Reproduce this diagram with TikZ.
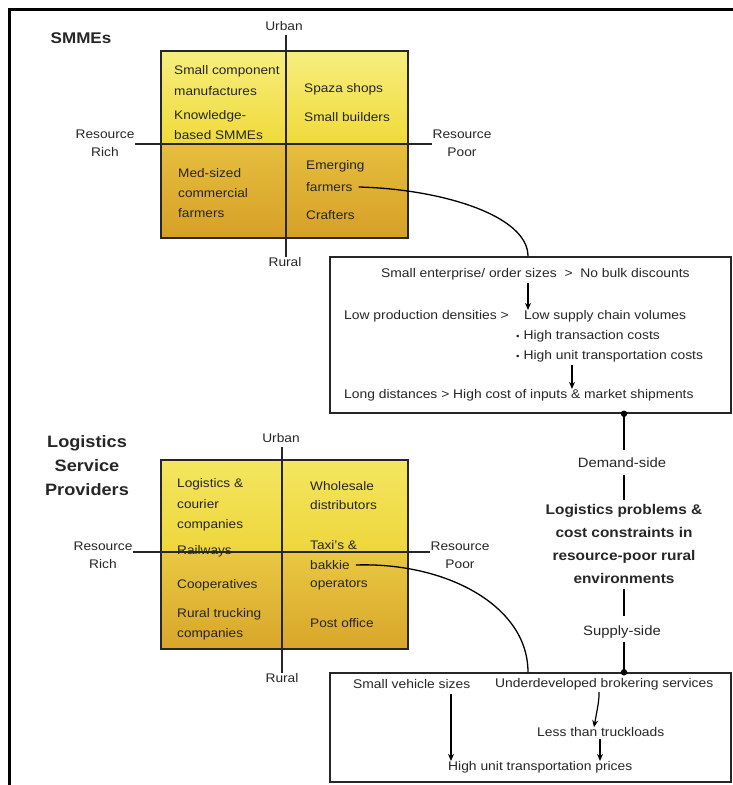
\documentclass[tikz,border=0pt]{standalone}
\usepackage{fontspec}
\setmainfont{Liberation Sans}[FakeStretch=1.1]
\usetikzlibrary{arrows.meta}
\definecolor{ink}{HTML}{262626}
\definecolor{hiA}{HTML}{F7EE7E}
\definecolor{hiB}{HTML}{F0DA3A}
\definecolor{loA}{HTML}{E6BE3E}
\definecolor{loB}{HTML}{D6A026}
\definecolor{lhiA}{HTML}{F4E660}
\definecolor{lhiB}{HTML}{EED63C}
\definecolor{lloA}{HTML}{E9C842}
\definecolor{lloB}{HTML}{D8A62A}
\begin{document}
\begin{tikzpicture}[x=1pt,y=-1pt,
  qtxt/.style={font=\fontsize{12.4}{14}\selectfont, text=ink, inner sep=0pt, anchor=west},
  btxt/.style={font=\fontsize{12.6}{14}\selectfont, text=ink, inner sep=0pt, anchor=west},
  axis/.style={font=\fontsize{12.5}{14}\selectfont, text=ink, inner sep=0pt},
  heading/.style={font=\bfseries\fontsize{15.5}{18}\selectfont, text=ink, inner sep=0pt, align=center},
  side/.style={font=\fontsize{13.5}{16}\selectfont, text=ink, inner sep=0pt},
  core/.style={font=\bfseries\fontsize{14}{23}\selectfont, text=ink, inner sep=0pt, align=center},
  quad/.style={draw=ink, line width=1.6pt, minimum width=247pt, inner sep=0pt},
  probbox/.style={draw=ink, line width=1.5pt, inner sep=0pt, minimum width=401pt},
  divider/.style={draw=ink, line width=1.2pt},
  link/.style={draw=black, line width=1.3pt},
  flow/.style={draw=black, line width=1.2pt, -{Stealth[length=7pt,width=6pt]}},
  dot/.style={circle, fill=black, inner sep=0pt, minimum size=6.5pt}
]
\useasboundingbox (0,0) rectangle (733,785);

% outer frame (top and left edges)
\draw[line width=3pt] (9.5,785) -- (9.5,9.5) -- (733,9.5);

% ---------- SMMEs matrix ----------
\shade[top color=hiA, bottom color=hiB] (161,51) rectangle (408,144);
\shade[top color=loA, bottom color=loB] (161,144) rectangle (408,238);
\node[quad, minimum height=187pt] (smq) at (284.5,144.5) {};
\node[heading] (smmes) at (81,38) {SMMEs};

\node[axis] (su) at (284,26) {Urban};
\node[axis] (sr) at (285,262) {Rural};
\node[axis, align=center] (srich) at (105,143) {Resource\\[4pt]Rich};
\node[axis, align=center] (spoor) at (462,143) {Resource\\[4pt]Poor};
\draw[divider] (286,0 |- su.south) ++(0,4) -- (286,0 |- sr.north) ;
\draw[divider] (srich.east |- 0,144) -- (spoor.west |- 0,144);

\node[qtxt] (s1) at (174,71) {Small component};
\node[qtxt] (s2) at (174,91) {manufactures};
\node[qtxt] (s3) at (174,116) {Knowledge-};
\node[qtxt] (s4) at (174,135) {based SMMEs};
\node[qtxt] (s5) at (304,89) {Spaza shops};
\node[qtxt] (s6) at (304,117) {Small builders};
\node[qtxt] (s7) at (178,173) {Med-sized};
\node[qtxt] (s8) at (178,193) {commercial};
\node[qtxt] (s9) at (178,213) {farmers};
\node[qtxt] (s10) at (306,166) {Emerging};
\node[qtxt] (s11) at (306,187) {farmers};
\node[qtxt] (s12) at (306,215) {Crafters};

% ---------- demand-side problem box ----------
\node[probbox, minimum height=156pt] (dbox) at (530.5,335) {};
\node[btxt] (d1) at (381,274) {Small enterprise/ order sizes \ > \ No bulk discounts};
\node[btxt] (d2) at (344,316) {Low production densities >};
\node[btxt] (d3) at (524,316) {Low supply chain volumes};
\node[btxt] (d4) at (516,336) {{\fontsize{9}{9}\selectfont\textbullet}\ High transaction costs};
\node[btxt] (d5) at (516,356) {{\fontsize{9}{9}\selectfont\textbullet}\ High unit transportation costs};
\node[btxt] (d6) at (344,395) {Long distances > High cost of inputs \& market shipments};
\draw[flow] (528,0 |- d1.south) ++(0,3) -- (528,0 |- d3.north);
\draw[flow] (572,0 |- d5.south) ++(0,3) -- (572,0 |- d6.north);

\draw[link] ([xshift=6pt]s11.east) .. controls (440,189) and (528,215) .. (528,0 |- dbox.north);

% ---------- Logistics Service Providers matrix ----------
\shade[top color=lhiA, bottom color=lhiB] (161,460) rectangle (408,552);
\shade[top color=lloA, bottom color=lloB] (161,552) rectangle (408,649);
\node[quad, minimum height=189pt] (lq) at (284.5,554.5) {};
\node[heading, font=\bfseries\fontsize{16.5}{24}\selectfont] (lsp) at (87,466) {Logistics\\Service\\Providers};

\node[axis] (lu) at (281,438) {Urban};
\node[axis] (lr) at (282,678) {Rural};
\node[axis, align=center] (lrich) at (103,555) {Resource\\[4pt]Rich};
\node[axis, align=center] (lpoor) at (460,555) {Resource\\[4pt]Poor};
\draw[divider] (282,0 |- lu.south) ++(0,4) -- (282,0 |- lr.north);
\draw[divider] (lrich.east |- 0,552) -- (lpoor.west |- 0,552);

\node[qtxt] (l1) at (177,484) {Logistics \&};
\node[qtxt] (l2) at (177,504) {courier};
\node[qtxt] (l3) at (177,525) {companies};
\node[qtxt] (l4) at (177,551) {Railways};
\node[qtxt] (l5) at (177,585) {Cooperatives};
\node[qtxt] (l6) at (177,614) {Rural trucking};
\node[qtxt] (l7) at (177,634) {companies};
\node[qtxt] (l8) at (310,486) {Wholesale};
\node[qtxt] (l9) at (310,505) {distributors};
\node[qtxt] (l10) at (310,545) {Taxi's \&};
\node[qtxt] (l11) at (310,565) {bakkie};
\node[qtxt] (l12) at (310,585) {operators};
\node[qtxt] (l13) at (310,623) {Post office};

% ---------- supply-side problem box ----------
\node[probbox, minimum height=109pt] (sbox) at (530.5,727.5) {};
\node[btxt] (p1) at (353,684) {Small vehicle sizes};
\node[btxt] (p2) at (495,684) {Underdeveloped brokering services};
\node[btxt] (p3) at (537,732) {Less than truckloads};
\node[btxt] (p4) at (448,767) {High unit transportation prices};
\draw[flow] (451,0 |- p1.south) ++(0,5) -- (451,0 |- p4.north);
\draw[flow] (599,0 |- p2.south) ++(0,2) .. controls (599,700) .. (594,0 |- p3.north);
\draw[flow] (600,0 |- p3.south) ++(0,2) -- (600,0 |- p4.north);

\draw[link] ([xshift=6pt]l11.east) .. controls (445,562) and (528,605) .. (528,0 |- sbox.north);

% ---------- central problem statement ----------
\node[dot] (top) at (624,0 |- dbox.south) {};
\node[dot] (bot) at (624,0 |- sbox.north) {};
\node[side] (dem) at (622,463) {Demand-side};
\node[core] (core) at (624,544) {Logistics problems \&\\cost constraints in\\resource-poor rural\\environments};
\node[side] (sup) at (622,632) {Supply-side};
\draw[link, shorten >=8pt] (top.center) -- (dem.north -| top);
\draw[link, shorten <=7pt, shorten >=4pt] (dem.south -| top) -- (core.north -| top);
\draw[link, shorten <=5pt, shorten >=10pt] (core.south -| top) -- (sup.north -| top);
\draw[link, shorten <=3pt] (sup.south -| top) -- (bot.center);
\end{tikzpicture}
\end{document}
